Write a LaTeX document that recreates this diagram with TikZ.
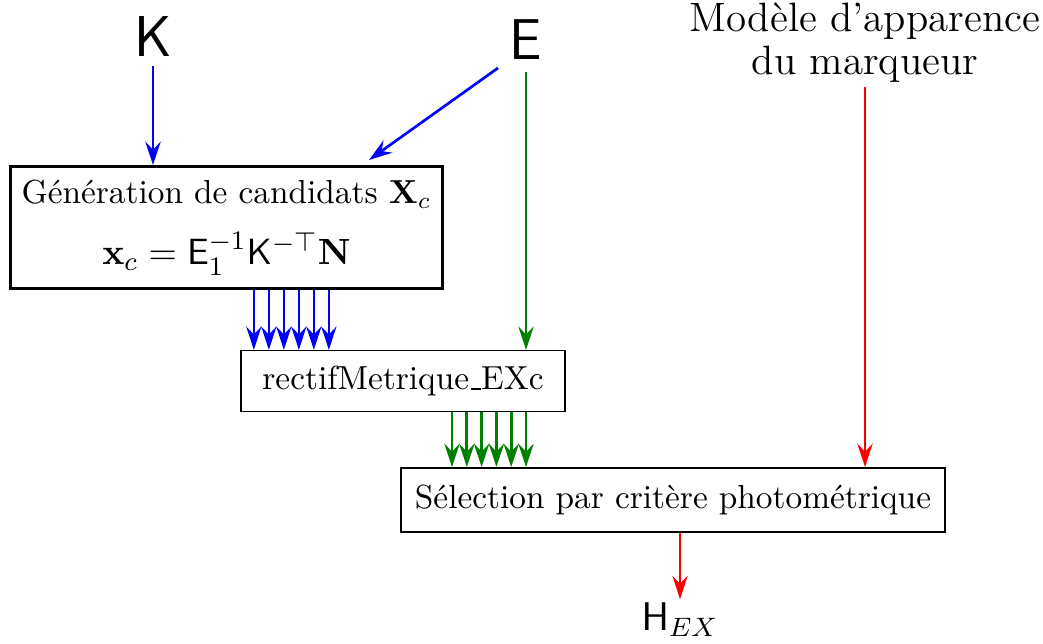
\documentclass[tikz,border=0pt]{standalone}
\usepackage{amsmath}
\usetikzlibrary{calc,arrows.meta}
\begin{document}
\begin{tikzpicture}[x=0.3pt, y=-0.3pt, >={Stealth[length=7pt, width=4.6pt, inset=2.4pt]}, auto]
    \tikzset{
      bloc/.style={draw, rectangle, align=center},
      bleu/.style={->, blue, thick},
      vert/.style={->, green!50!black, thick},
      rouge/.style={->, red, thick}}
    \useasboundingbox (0,0) rectangle (1043,643);
    \node (K) [inner sep=2.4pt] at (153,37) {\LARGE $\mathsf{K}$};
    \node (E) at (526,40) {\LARGE $\mathsf{E}$};
    \node (M) [align=center, inner sep=1pt, font=\fontsize{12.3}{12.8}\selectfont] at (865,43) {Mod\`ele d'apparence\\du marqueur};
    \node (G) [bloc, line width=0.9pt, minimum width=129pt, minimum height=36.6pt] at (226.5,227.5)
      {G\'en\'eration de candidats $\mathbf{X}_c$\\[6.5pt] {\fontsize{10.8}{13}\selectfont $\mathbf{x}_c = \mathsf{E}_1^{-1}\mathsf{K}^{-\top}\mathbf{N}$}};
    \node (R) [bloc, thin, minimum width=97.2pt, minimum height=18.3pt] at (403,381)
      {rectifMetrique\kern.06em\vbox{\hrule width.3em}EXc};
    \node (S) [bloc, semithick, minimum width=163.2pt, minimum height=19.2pt] at (673,500) {S\'election par crit\`ere photom\'etrique};
    \node (H) [inner sep=1pt] at (680,620) {\large $\mathsf{H}_{EX}$};
    \coordinate (GE) at ($(G.north east)+(-75,-5)$);
    \draw[bleu] (K.south) -- (K.south |- G.north);
    \draw[bleu] (E.-135) -- (GE);
    \draw[vert] (E.south) -- (E.south |- R.north);
    % faisceaux de candidats
    \foreach \i in {0,...,5} {
      \coordinate (b\i) at ($(R.north west)+(13.5+15*\i,0)$);
      \draw[bleu] (b\i |- G.south) -- (b\i);
    }
    \foreach \i in {0,...,5} {
      \coordinate (v\i) at ($(S.north west)+(52+14.8*\i,0)$);
      \draw[vert] (v\i |- R.south) -- (v\i);
    }
    \draw[rouge] (M.south) -- (M.south |- S.north);
    \draw[rouge] (H.north |- S.south) -- (H.north);
\end{tikzpicture}
\end{document}
